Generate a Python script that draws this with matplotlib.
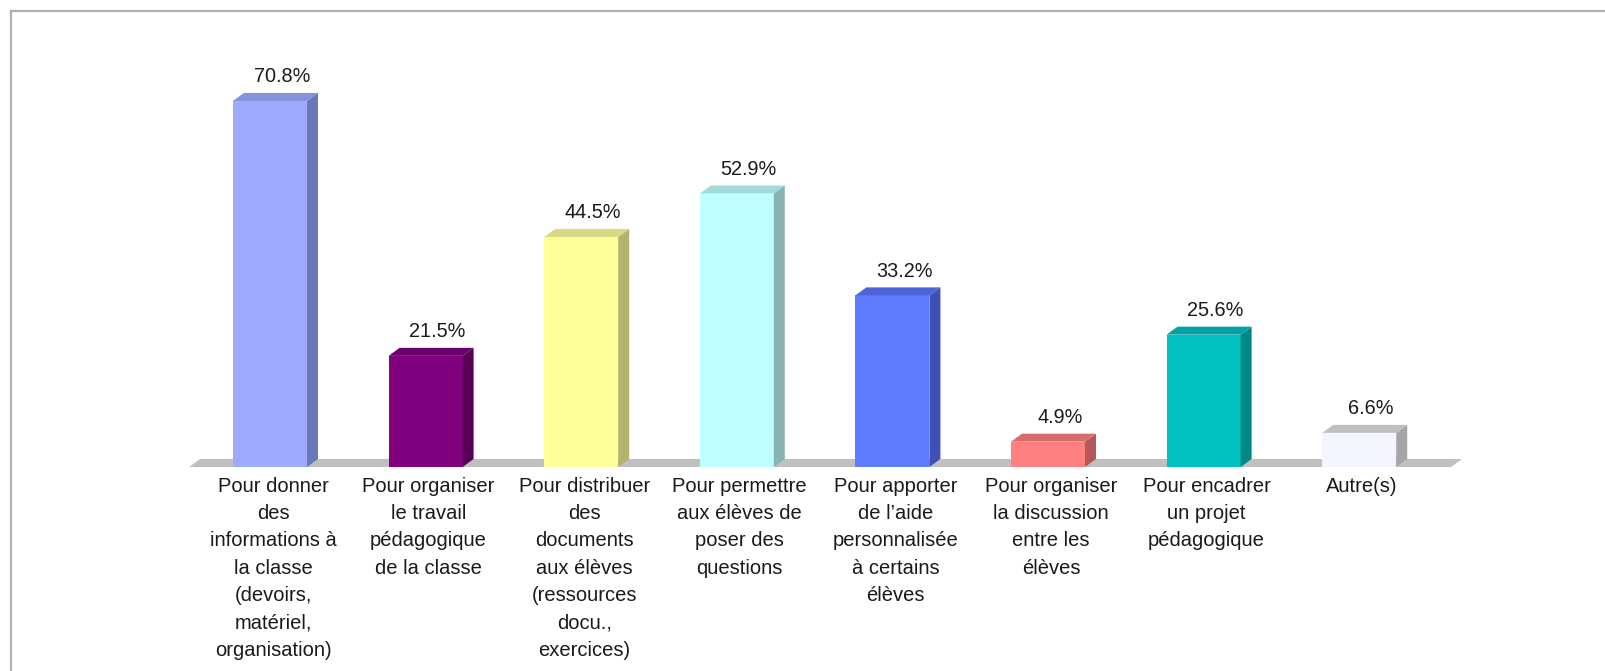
import matplotlib
matplotlib.use("Agg")
import matplotlib.pyplot as plt
from matplotlib.patches import Polygon
from matplotlib.lines import Line2D

categories = [
    "Pour donner\ndes\ninformations à\nla classe\n(devoirs,\nmatériel,\norganisation)",
    "Pour organiser\nle travail\npédagogique\nde la classe",
    "Pour distribuer\ndes\ndocuments\naux élèves\n(ressources\ndocu.,\nexercices)",
    "Pour permettre\naux élèves de\nposer des\nquestions",
    "Pour apporter\nde l’aide\npersonnalisée\nà certains\nélèves",
    "Pour organiser\nla discussion\nentre les\nélèves",
    "Pour encadrer\nun projet\npédagogique",
    "Autre(s)",
]
values = [70.8, 21.5, 44.5, 52.9, 33.2, 4.9, 25.6, 6.6]
value_labels = ["70.8%", "21.5%", "44.5%", "52.9%", "33.2%", "4.9%", "25.6%", "6.6%"]

front_colors = ['#9DAAFF', '#800080', '#FFFF99', '#C0FFFF', '#5F7BFF', '#FF8080', '#00C0C0', '#F2F4FF']
side_colors = ['#6B78B8', '#560056', '#B3B36B', '#86B3B3', '#3F51B5', '#B35959', '#008787', '#A6A6A6']
top_colors = ['#8592DB', '#6B006B', '#D9D982', '#A3D9D9', '#5064D9', '#D96C6C', '#00A3A3', '#BFBFBF']

plt.rcParams['font.family'] = ['Liberation Sans', 'DejaVu Sans']

W, H = 1605, 671
fig = plt.figure(figsize=(W / 100, H / 100), dpi=100)
ax = fig.add_axes([0, 0, 1, 1])

# pixel geometry -> data scales
x0_px, step_px = 270.0, 155.6
floor_px, px_per_pct = 467.0, 5.17
ax.set_xlim((0 - x0_px) / step_px, (W - x0_px) / step_px)
ax.set_ylim(-(H - floor_px) / px_per_pct, floor_px / px_per_pct)
ax.axis('off')

width = 74 / step_px
dx = 11 / step_px
dy = 8 / px_per_pct

# floor
n = len(values)
fl_left, fl_right = -0.52, n - 1 + 0.59
floor = Polygon([(fl_left, 0), (fl_left + dx, dy), (fl_right + dx, dy), (fl_right, 0)],
                closed=True, facecolor='#C0C0C0', edgecolor='none', zorder=1)
ax.add_patch(floor)

xs = list(range(n))
ax.bar(xs, values, width=width, color=front_colors, edgecolor='none', zorder=3)
for i, v in enumerate(values):
    r = i + width / 2
    l = i - width / 2
    ax.add_patch(Polygon([(r, 0), (r + dx, dy), (r + dx, v + dy), (r, v)], closed=True,
                         facecolor=side_colors[i], edgecolor='none', zorder=3))
    ax.add_patch(Polygon([(l, v), (l + dx, v + dy), (r + dx, v + dy), (r, v)], closed=True,
                         facecolor=top_colors[i], edgecolor='none', zorder=3))
    ax.text(i + 12 / step_px, v + 24 / px_per_pct, value_labels[i], ha='center', va='center',
            fontsize=14.3, color='#1a1a1a', zorder=4)
    ax.text(i + 3 / step_px, -(477 - floor_px) / px_per_pct, categories[i], ha='center', va='top',
            fontsize=14.5, color='#1a1a1a', linespacing=1.55, zorder=4)

# chart frame (top & left edges visible)
fig.add_artist(Line2D([10.5 / W, 1], [1 - 10.5 / H, 1 - 10.5 / H], transform=fig.transFigure,
                      color='#B0B0B0', linewidth=1.6))
fig.add_artist(Line2D([10.5 / W, 10.5 / W], [0, 1 - 10.5 / H], transform=fig.transFigure,
                      color='#B0B0B0', linewidth=1.6))

fig.savefig('out.png', dpi=100, facecolor='white')
